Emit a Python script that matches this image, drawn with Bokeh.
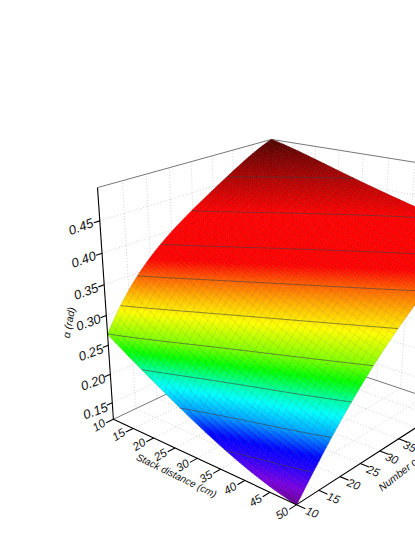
import numpy as np
from numpy.polynomial import polynomial as npoly
from bokeh.plotting import figure
from bokeh.embed import file_html
from bokeh.resources import INLINE
from bokeh.core.properties import value
from bokeh.models import Range1d

# ---- data ----
stack_distance = [10, 15, 20, 25, 30, 35, 40, 45, 50]
layers = [10, 15, 20, 25, 30, 35, 40, 45, 50]
alpha_x10 = [.268, .326, .368, .397, .421, .445, .465, .484, .500]
alpha_x15 = [.245, .305, .346, .383, .408, .432, .453, .472, .490]
alpha_x20 = [.221, .278, .324, .362, .393, .416, .438, .460, .480]
alpha_x25 = [.200, .256, .304, .341, .377, .402, .425, .446, .465]
alpha_x30 = [.179, .236, .283, .321, .356, .389, .412, .434, .455]
alpha_x35 = [.159, .217, .266, .304, .336, .371, .398, .421, .445]
alpha_x40 = [.143, .199, .247, .287, .320, .350, .385, .407, .435]
alpha_x45 = [.130, .182, .230, .273, .304, .333, .365, .394, .420]
alpha_x50 = [.120, .168, .213, .256, .289, .318, .345, .380, .410]
contour_levels = [.155, .193, .231, .269, .307, .345, .383, .421, .459]
z_ticks = [0.15, 0.20, 0.25, 0.30, 0.35, 0.40, 0.45]
x_ticks = [10, 15, 20, 25, 30, 35, 40, 45, 50]
y_ticks = [10, 15, 20, 25, 30, 35]
z_min, z_max = 0.12, 0.50
x_title = "Stack distance (cm)"
y_title = "Number of"
z_title = "\u03b1 (rad)"
color_z = [.12, .135, .155, .17, .193, .215, .231, .25, .269, .30, .32, .345, .365, .42, .45, .50]
color_hex = ["#6a0090", "#7a00e0", "#2800ff", "#0000ff", "#00a0ff", "#00ffff", "#00ffa0", "#00ff00",
             "#80ff00", "#ffff00", "#ffc000", "#ff6000", "#ff0000", "#ff0000", "#c00000", "#500000"]

Z = np.array([alpha_x10, alpha_x15, alpha_x20, alpha_x25, alpha_x30, alpha_x35, alpha_x40, alpha_x45, alpha_x50])
X0, X1, Y0, Y1 = 10, 50, 10, 50

# ---- camera: box corners as they fall on the page ----
world = np.array([[0, 0, 0], [1, 0, 0], [0, 1, 0], [1, 1, 0], [0, 0, 1], [0, 1, 1]], float)
image = np.array([[113, 419], [296, 504], [270, 344], [450, 405], [97, 187], [271, 139]], float)
rows = []
for (a, b, c), (u, v) in zip(world, image):
    rows.append([a, b, c, 1, 0, 0, 0, 0, -u*a, -u*b, -u*c, -u])
    rows.append([0, 0, 0, 0, a, b, c, 1, -v*a, -v*b, -v*c, -v])
P = np.linalg.svd(np.array(rows))[2][-1].reshape(3, 4)

def proj(x, y, z):
    x, y, z = np.broadcast_arrays(np.asarray(x, float), np.asarray(y, float), np.asarray(z, float))
    q = np.stack([(x-X0)/(X1-X0), (y-Y0)/(Y1-Y0), (z-z_min)/(z_max-z_min), np.ones_like(x, dtype=float)], -1)
    r = q @ P.T
    return r[..., 0]/r[..., 2], r[..., 1]/r[..., 2]

def hex2rgb(h):
    return [int(h[i:i+2], 16) for i in (1, 3, 5)]
cmap = np.array([hex2rgb(h) for h in color_hex], float)
def colour(z):
    return "#%02x%02x%02x" % tuple(int(round(np.interp(z, color_z, cmap[:, i]))) for i in range(3))

# rendering mesh: smooth low-order surface through the table, shaded in fine facets
N = 80
u = (np.array(stack_distance, float)-30)/20
w = (np.array(layers, float)-30)/20
UU, WW = np.meshgrid(u, w, indexing="ij")
V = npoly.polyvander2d(UU.ravel(), WW.ravel(), [4, 4])
coef = np.linalg.lstsq(V, Z.ravel(), rcond=None)[0].reshape(5, 5)
fx = np.linspace(X0, X1, N+1)
fy = np.linspace(Y0, Y1, N+1)
GX, GY = np.meshgrid(fx, fy, indexing="ij")
F = npoly.polyval2d((GX-30)/20, (GY-30)/20, coef)
SX, SY = proj(GX, GY, F)

p = figure(width=415, height=537, output_backend="svg", toolbar_location=None,
           x_range=Range1d(0, 415), y_range=Range1d(537, 0), min_border=0,
           outline_line_color=None, x_axis_location=None, y_axis_location=None)
p.grid.visible = False
p.background_fill_color = "white"
p.border_fill_color = "white"

def seg(a3, b3):
    xa, ya = proj(*a3); xb, yb = proj(*b3)
    return [float(xa), float(xb)], [float(ya), float(yb)]

# grids on walls and floor
gx, gy = [], []
for t in x_ticks[1:-1]:
    for s in [((t, Y0, z_min), (t, Y1, z_min)), ((t, Y1, z_min), (t, Y1, z_max))]:
        a, b = seg(*s); gx.append(a); gy.append(b)
for t in layers[1:-1]:
    for s in [((X0, t, z_min), (X1, t, z_min)), ((X0, t, z_min), (X0, t, z_max))]:
        a, b = seg(*s); gx.append(a); gy.append(b)
for t in z_ticks:
    for s in [((X0, Y0, t), (X0, Y1, t)), ((X0, Y1, t), (X1, Y1, t))]:
        a, b = seg(*s); gx.append(a); gy.append(b)
p.multi_line(gx, gy, line_color="#c8c8c8", line_width=0.8, line_dash="1 2")

# grey box edges
bx, by = [], []
for s in [((X0, Y0, z_max), (X0, Y1, z_max)), ((X0, Y1, z_max), (X1, Y1, z_max)),
          ((X0, Y0, z_min), (X0, Y1, z_min)), ((X0, Y1, z_min), (X1, Y1, z_min)),
          ((X0, Y1, z_min), (X0, Y1, z_max)), ((X1, Y1, z_min), (X1, Y1, z_max))]:
    a, b = seg(*s); bx.append(a); by.append(b)
p.multi_line(bx, by, line_color="#777777", line_width=1)

# surface facets, back to front
xs, ys, cols = [], [], []
for i in range(N):
    for j in range(N-1, -1, -1):
        xs.append([SX[i, j], SX[i+1, j], SX[i+1, j+1], SX[i, j+1]])
        ys.append([SY[i, j], SY[i+1, j], SY[i+1, j+1], SY[i, j+1]])
        cols.append(colour((F[i, j]+F[i+1, j]+F[i+1, j+1]+F[i, j+1])/4))
p.patches(xs, ys, fill_color=cols, line_color=cols, line_width=0.6)

# faint mesh lines, one data unit apart
mx, my = [], []
for k in range(0, N+1, 2):
    mx.append(SX[k, :].tolist()); my.append(SY[k, :].tolist())
    mx.append(SX[:, k].tolist()); my.append(SY[:, k].tolist())
p.multi_line(mx, my, line_color="#505050", line_alpha=0.2, line_width=0.6)

# contour lines
cx, cy = [], []
for lev in contour_levels:
    for i in range(N):
        for j in range(N):
            corners = [(i, j), (i+1, j), (i+1, j+1), (i, j+1)]
            pts = []
            for m in range(4):
                a, b = corners[m], corners[(m+1) % 4]
                fa, fb = F[a]-lev, F[b]-lev
                if fa*fb < 0:
                    t = fa/(fa-fb)
                    pts.append((SX[a]+t*(SX[b]-SX[a]), SY[a]+t*(SY[b]-SY[a])))
            if len(pts) == 2:
                cx.append([pts[0][0], pts[1][0]]); cy.append([pts[0][1], pts[1][1]])
p.multi_line(cx, cy, line_color="#404040", line_alpha=0.75, line_width=0.8)

# black axes
ax, ay = [], []
for s in [((X0, Y0, z_min), (X0, Y0, z_max)), ((X0, Y0, z_min), (X1, Y0, z_min)), ((X1, Y0, z_min), (X1, Y1, z_min))]:
    a, b = seg(*s); ax.append(a); ay.append(b)
for t in z_ticks:
    a, b = seg((X0, Y0, t), (X0, Y0-1.2, t)); ax.append(a); ay.append(b)
for t in x_ticks:
    a, b = seg((t, Y0, z_min), (t, Y0-1.6, z_min)); ax.append(a); ay.append(b)
for t in layers:
    a, b = seg((X1, t, z_min), (X1+1.6, t, z_min)); ax.append(a); ay.append(b)
p.multi_line(ax, ay, line_color="black", line_width=1.1)

font = value("Liberation Sans")
def label(x, y, txt, deg, size="12px", style="normal", align="center"):
    p.text([x], [y], text=[txt], angle=[np.deg2rad(deg)], text_font=font, text_font_size=size,
           text_font_style=style, text_align=align, text_baseline="middle", text_color="#111111")

for t in z_ticks:
    x, y = proj(X0, Y0-4.3, t)
    label(float(x)+3, float(y)-1, "%.2f" % t, 20, "13px", "italic")
for t in x_ticks:
    x, y = proj(t, Y0-3.6, z_min)
    label(float(x)+2, float(y)-2, str(t), 32, "11.5px", "italic")
for t in y_ticks:
    x, y = proj(X1+3.0, t, z_min)
    label(float(x)-1-(t-10)*0.16, float(y)+(t-10)*0.06, str(t), -22, "11.5px", "italic")
label(176, 475, x_title, -26, "10px", "italic")
label(379, 488, y_title, 38, "10.5px", "italic", "left")
label(68, 322, z_title, 80, "10.5px", "italic")

open("out.html", "w").write(file_html(p, INLINE))
